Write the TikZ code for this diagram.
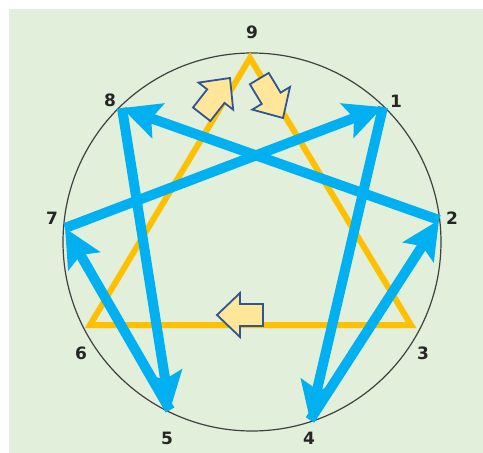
\documentclass[tikz,border=0pt]{standalone}
\usepackage{fontspec}
\setmainfont{DejaVu Sans}
\usetikzlibrary{arrows.meta}
\definecolor{bgreen}{RGB}{226,239,218}
\definecolor{hexblue}{RGB}{0,176,240}
\definecolor{triorange}{RGB}{255,192,0}
\definecolor{flowfill}{RGB}{255,230,153}
\definecolor{flowedge}{RGB}{47,85,151}
\tikzstyle{ring} = [draw=black!75, line width=1.2pt]
\tikzstyle{triad} = [draw=triorange, line width=6pt, line join=miter]
\tikzstyle{hexad} = [draw=hexblue, line width=10pt, -{Stealth[length=38pt, width=36pt, inset=7pt]}]
\tikzstyle{flowarrow} = [fill=flowfill, draw=flowedge, line width=1.8pt, line join=miter]
\tikzstyle{num} = [font=\bfseries\fontsize{17}{17}\selectfont, text=black!85]
\tikzset{flow/.pic={\draw[flowarrow] (0,0) -- (-23,22) -- (-23,11) -- (-46,11) -- (-46,-11) -- (-23,-11) -- (-23,-22) -- cycle;}}

\begin{document}
\begin{tikzpicture}[x=1pt, y=-1pt]
    % Background
    \useasboundingbox (0,0) rectangle (483,453);
    \fill[bgreen] (9,9) rectangle (483,453);

    % Circle
    \draw[ring] (252,242) circle (189);

    % Points on the circle
    \foreach \n/\px/\py in {1/383/107, 2/439/220, 3/411/325, 4/310/420, 5/170/410,
                            6/90/325, 7/65/228, 8/122/108, 9/250/58} {
        \coordinate (p\n) at (\px,\py);
    }

    % Triangle 9-3-6
    \draw[triad] (p9) -- (p3) -- (p6) -- cycle;

    % Hexad 1-4-2-8-5-7-1
    \foreach \a/\b in {1/4, 4/2, 2/8, 8/5, 5/7, 7/1} {
        \draw[hexad] (p\a) -- (p\b);
    }

    % Flow arrows
    \pic[rotate=52] at (230,78) {flow};
    \pic[rotate=-59] at (283,118) {flow};
    \pic[rotate=180] at (217,315) {flow};

    % Labels
    \foreach \n/\px/\py in {1/396/101, 2/452/218, 3/423/353, 4/309/438, 5/167/438,
                            6/81/353, 7/52/218, 8/110/100, 9/252/32} {
        \node[num] (l\n) at (\px,\py) {\n};
    }
\end{tikzpicture}
\end{document}
